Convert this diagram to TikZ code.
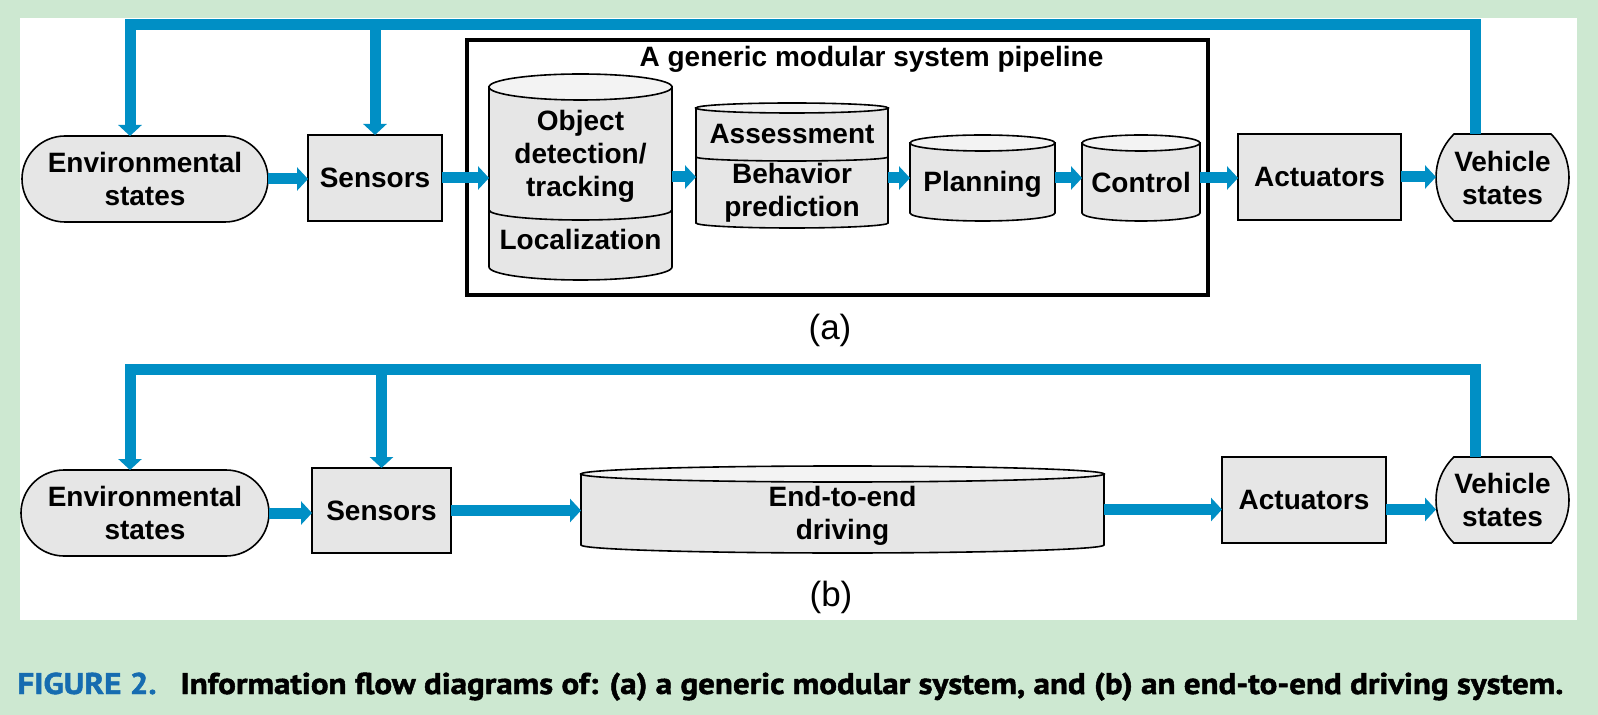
\documentclass[tikz,border=0pt]{standalone}
\usepackage{fontspec}
\setmainfont{Liberation Sans}
\newfontfamily\capfont[FakeStretch=1.10,FakeBold=1.6]{PT Sans}
\usetikzlibrary{arrows.meta,shapes.misc}
\definecolor{bggreen}{RGB}{205,232,209}
\definecolor{flowblue}{RGB}{0,143,197}
\definecolor{figblue}{RGB}{22,108,176}
\definecolor{boxgray}{RGB}{230,230,230}
\definecolor{topgray}{RGB}{243,243,243}
\newcommand\lblfont{\fontsize{14}{16.5}\selectfont\bfseries}
\def\drum(#1)(#2:#3){\draw[line width=0.8pt,fill=boxgray] (#1.north west) -- (#1.south west) arc[start angle=180,end angle=0,x radius=#2,y radius=#3] -- (#1.north east) -- cycle;
	\draw[line width=0.8pt,fill=topgray] (#1.north) ellipse[x radius=#2,y radius=#3];}
\tikzset{
	box/.style={draw,line width=0.8pt,fill=boxgray,inner sep=0pt,outer sep=0pt,align=center,font=\lblfont},
	pill/.style={box,rounded rectangle},
	drum/.style={inner sep=0pt,outer sep=0pt},
	lbl/.style={inner sep=0pt,align=center,font=\lblfont},
	fb/.style={flowblue,line width=5.5pt},
	flow/.style={fb,-{Triangle[width=11.5pt,length=5.5pt]}}
}

\begin{document}
\begin{tikzpicture}[x=0.5pt,y=-0.5pt]
		%%%%% START %%%%%
		
		\fill[bggreen] (0,0) rectangle (1598,715);
		\useasboundingbox (0,0) rectangle (1598,715);
		\fill[white] (20,18) rectangle (1577,620);
		
		% (a) modular pipeline
		\node[pill, minimum width=123pt, minimum height=43pt] (envA) at (145,179) {Environmental\\states};
		\node[box, minimum width=67pt, minimum height=43pt] (sensA) at (375,178) {Sensors};
		\node[draw, line width=1.6pt, inner sep=0pt, outer sep=0pt, minimum width=370.5pt, minimum height=127.5pt] (pipe) at (837.5,167.5) {};
		\node[lbl, anchor=base] (pipettl) at (871.5,67) {A generic modular system pipeline};
		
		\node[drum, minimum width=91.5pt, minimum height=90pt] (objA) at (580.5,177) {};
		\node[drum, minimum width=96pt, minimum height=57.5pt] (assA) at (792,165.5) {};
		\node[drum, minimum width=72.5pt, minimum height=35pt] (planA) at (982.5,178) {};
		\node[drum, minimum width=59pt, minimum height=35pt] (ctrlA) at (1141,178) {};
		\drum(objA)(91.5:13)
		\drum(assA)(96:5)
		\drum(planA)(72.5:8)
		\drum(ctrlA)(59:8)
		\draw[line width=0.8pt] (objA.west |- 0,210) arc[start angle=180,end angle=0,x radius=91.5,y radius=10];
		\draw[line width=0.8pt] (assA.west |- 0,157) arc[start angle=180,end angle=0,x radius=96,y radius=4];
		
		\node[lbl] (objlbl) at (580.5,156) {Object\\detection/\\tracking};
		\node[lbl, anchor=base] (loclbl) at (580.5,250) {Localization};
		\node[lbl, anchor=base] (asslbl) at (792,144) {Assessment};
		\node[lbl] (behlbl) at (792,193) {Behavior\\prediction};
		\node[lbl, anchor=base] (planlbl) at (982.5,191.5) {Planning};
		\node[lbl, anchor=base] (ctrllbl) at (1141,192.5) {Control};
		
		\node[box, minimum width=81.5pt, minimum height=43pt] (actA) at (1319.5,177) {Actuators};
		\node[pill, rounded rectangle arc length=90, minimum width=66.5pt, minimum height=43.5pt] (vehA) at (1502.5,177.5) {Vehicle\\states};
		
		\draw[flow] (envA.east) -- (envA.east -| sensA.west);
		\draw[flow] (sensA.east) -- (sensA.east -| objA.west);
		\draw[flow] (objA.east) -- (objA.east -| assA.west);
		\draw[flow] (assA.east |- planA.west) -- (planA.west);
		\draw[flow] (planA.east) -- (ctrlA.west);
		\draw[flow] (ctrlA.east) -- (ctrlA.east -| actA.west);
		\draw[flow] (actA.east) -- (actA.east -| vehA.west);
		
		\coordinate (topA) at (0,24.5);
		\coordinate (envinA) at ([xshift=-7.5pt]envA.north);
		\coordinate (vehoutA) at ([xshift=-13.75pt]vehA.north);
		\draw[flow] (vehoutA) |- (envinA |- topA) -- (envinA);
		\draw[flow] (sensA.north |- topA) -- (sensA.north);
		
		\node[font=\fontsize{17.5}{20}\selectfont] (capA) at (830,330) {(a)};
		
		% (b) end-to-end
		\node[pill, minimum width=124pt, minimum height=43pt] (envB) at (145,513) {Environmental\\states};
		\node[box, minimum width=69.5pt, minimum height=42.5pt] (sensB) at (381.5,510.5) {Sensors};
		\node[drum, minimum width=261.5pt, minimum height=35.5pt] (e2eB) at (842.5,509.5) {};
		\drum(e2eB)(261.5:8)
		\node[lbl] (e2elbl) at (842.5,516) {End-to-end\\driving};
		\node[box, minimum width=82pt, minimum height=43pt] (actB) at (1304,500) {Actuators};
		\node[pill, rounded rectangle arc length=90, minimum width=66.5pt, minimum height=43pt] (vehB) at (1502.5,500) {Vehicle\\states};
		
		\draw[flow] (envB.east) -- (envB.east -| sensB.west);
		\draw[flow] (sensB.east) -- (sensB.east -| e2eB.west);
		\draw[flow] (e2eB.east) -- (e2eB.east -| actB.west);
		\draw[flow] (e2eB.east -| actB.east) -- (e2eB.east -| vehB.west);
		
		\coordinate (topB) at (0,369.5);
		\coordinate (envinB) at ([xshift=-7.5pt]envB.north);
		\coordinate (vehoutB) at ([xshift=-13.75pt]vehB.north);
		\draw[flow] (vehoutB) |- (envinB |- topB) -- (envinB);
		\draw[flow] (sensB.north |- topB) -- (sensB.north);
		
		\node[font=\fontsize{17.5}{20}\selectfont] (capB) at (831,597) {(b)};
		
		% caption
		\node[anchor=base west, inner sep=0pt, text=figblue, font=\capfont\bfseries\fontsize{15}{18}\selectfont] (figno) at (17,694) {FIGURE 2.};
		\node[anchor=base west, inner sep=0pt, font=\capfont\bfseries\fontsize{15}{18}\selectfont] (figtxt) at (180,694) {Information flow diagrams of: (a) a generic modular system, and (b) an end-to-end driving system.};
		
		%%%%% END %%%%%
	\end{tikzpicture}
\end{document}
